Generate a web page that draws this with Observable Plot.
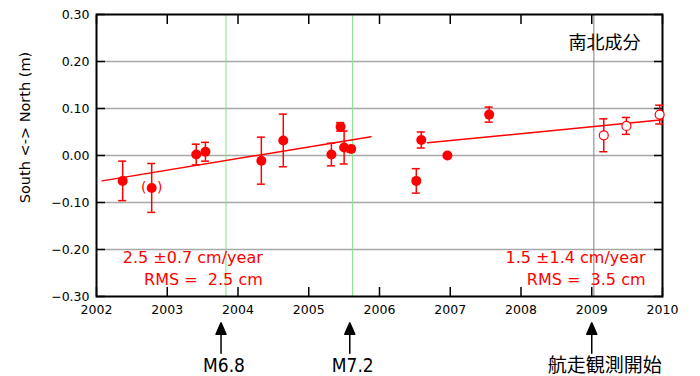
<!DOCTYPE html>
<html><head><meta charset="utf-8">
<script src="https://cdn.jsdelivr.net/npm/d3@7"></script>
<script src="https://cdn.jsdelivr.net/npm/@observablehq/plot@0.6"></script>
<style>html,body{margin:0;padding:0;background:#fff}</style>
</head><body><div id="chart"></div>
<script>
// ---- data ----
const solidT = [2002.37, 2002.78, 2003.41, 2003.54, 2004.33, 2004.64, 2005.32, 2005.45, 2005.50, 2005.60, 2006.52, 2006.59, 2006.96, 2007.55];
const solidV = [-0.054, -0.069, 0.002, 0.008, -0.011, 0.032, 0.002, 0.061, 0.017, 0.014, -0.054, 0.033, 0.000, 0.087];
const solidE = [0.042, 0.052, 0.022, 0.020, 0.050, 0.056, 0.024, 0.009, 0.035, 0.007, 0.026, 0.017, 0, 0.016];
const openT = [2009.17, 2009.49, 2009.96];
const openV = [0.043, 0.063, 0.087];
const openE = [0.035, 0.018, 0.020];
const bracketed = [1]; // index of point shown in parentheses
const trend1T = [2002.08, 2005.88], trend1V = [-0.054, 0.040];
const trend2T = [2006.68, 2010.0], trend2V = [0.027, 0.076];
const quakeLines = [2003.83, 2005.62];
const startLine = [2009.03];
const eventT = [2003.76, 2005.58, 2009.0];
const eventLabels = ["M6.8", "M7.2", "航走観測開始"];
const eventDx = [3, 3, 13];
const eventSize = [19, 19, 19];
const eventFont = ["Liberation Sans Narrow, DejaVu Sans Condensed, sans-serif", "Liberation Sans Narrow, DejaVu Sans Condensed, sans-serif", "Noto Sans CJK JP"];
const xTicks = [2002, 2003, 2004, 2005, 2006, 2007, 2008, 2009, 2010];
const yTicks = [-0.30, -0.20, -0.10, 0.00, 0.10, 0.20, 0.30];
const yGrid = [-0.20, -0.10, 0.00, 0.10, 0.20];
const rate1 = ["2.5 ±0.7 cm/year", "RMS =\u00a0 2.5 cm"];
const rate2 = ["1.5 ±1.4 cm/year", "RMS =\u00a0 3.5 cm"];
const title = "南北成分";
const yLabel = "South <-> North (m)";

// ---- tables ----
const solid = solidT.map((t, i) => ({t, v: solidV[i], e: solidE[i]}));
const open = openT.map((t, i) => ({t, v: openV[i], e: openE[i]}));
const withErr = [...solid, ...open].filter(d => d.e > 0);
const trend = [
  ...trend1T.map((t, i) => ({t, v: trend1V[i], s: 1})),
  ...trend2T.map((t, i) => ({t, v: trend2V[i], s: 2}))
];
const events = eventT.map((t, i) => ({t, label: eventLabels[i], dx: eventDx[i], size: eventSize[i], font: eventFont[i]}));
const red = "#ff0000";
const RX1 = 2004.35, RX2 = 2009.76, RY1 = -0.217, RY2 = -0.264;
const notes = [
  {t: RX1, v: RY1, s: rate1[0]}, {t: RX1, v: RY2, s: rate1[1]},
  {t: RX2, v: RY1, s: rate2[0]}, {t: RX2, v: RY2, s: rate2[1]}
];
const ARROW_LO = -0.421, LABEL_Y = -0.447;

const arrowShape = {
  draw(context, l) {
    context.moveTo(0, 0);
    context.lineTo(0, -l + 10);
    context.moveTo(0, -l);
    context.lineTo(-5, -l + 11.5);
    context.lineTo(5, -l + 11.5);
    context.closePath();
  }
};

const chart = Plot.plot({
  width: 700, height: 376,
  marginLeft: 96, marginRight: 38, marginTop: 14, marginBottom: 80,
  style: {fontFamily: "DejaVu Sans", fontSize: "12.5px", background: "#fff", color: "#000"},
  x: {domain: [2002, 2010], axis: null},
  y: {domain: [-0.3, 0.3], axis: null},
  marks: [
    Plot.ruleY(yGrid, {stroke: "#a8a8a8", strokeWidth: 1.5}),
    Plot.ruleX(quakeLines, {stroke: "#7ee87e", strokeWidth: 1}),
    Plot.ruleX(startLine, {stroke: "#808080", strokeWidth: 1}),
    // inward ticks
    Plot.axisY({anchor: "left", ticks: yTicks, tickSize: 9, insetLeft: 9, tickFormat: () => "", label: null, strokeWidth: 1.5}),
    Plot.axisY({anchor: "right", ticks: yTicks, tickSize: 9, insetRight: 9, tickFormat: () => "", label: null, strokeWidth: 1.5}),
    Plot.axisX({anchor: "bottom", ticks: xTicks, tickSize: 9, insetBottom: 9, tickFormat: () => "", label: null, strokeWidth: 1.5}),
    Plot.axisX({anchor: "top", ticks: xTicks, tickSize: 9, insetTop: 9, tickFormat: () => "", label: null, strokeWidth: 1.5}),
    // labels
    Plot.axisY({anchor: "left", ticks: yTicks, tickSize: 0, tickPadding: 7, tickFormat: d3.format(".2f"), label: null, fontSize: 12.5}),
    Plot.axisX({anchor: "bottom", ticks: xTicks, tickSize: 0, tickPadding: 9, tickFormat: d => String(d), label: null, fontSize: 12.5}),
    Plot.text([yLabel], {frameAnchor: "left", text: d => d, rotate: -90, textAnchor: "middle", dx: -71, dy: -28, fontSize: 14.5, fill: "#000"}),
    Plot.frame({stroke: "#000", strokeWidth: 2}),
    // trend lines
    Plot.line(trend, {x: "t", y: "v", z: "s", stroke: red, strokeWidth: 1.5}),
    // error bars
    Plot.ruleX(withErr, {x: "t", y1: d => d.v - d.e, y2: d => d.v + d.e, stroke: red, strokeWidth: 1.5}),
    Plot.ruleY(withErr, {y: d => d.v - d.e, x1: "t", x2: "t", insetLeft: -4, insetRight: -4, stroke: red, strokeWidth: 1.5}),
    Plot.ruleY(withErr, {y: d => d.v + d.e, x1: "t", x2: "t", insetLeft: -4, insetRight: -4, stroke: red, strokeWidth: 1.5}),
    // points
    Plot.dot(solid, {x: "t", y: "v", r: 5, fill: red, stroke: "none"}),
    Plot.dot(open, {x: "t", y: "v", r: 4.5, fill: "#fff", stroke: red, strokeWidth: 1.2}),
    Plot.text(bracketed.map(i => solid[i]), {x: "t", y: "v", text: () => "(", dx: -8, fill: red, fontSize: 14}),
    Plot.text(bracketed.map(i => solid[i]), {x: "t", y: "v", text: () => ")", dx: 8, fill: red, fontSize: 14}),
    // annotations
    Plot.text(notes, {x: "t", y: "v", text: "s", textAnchor: "end", fill: red, fontSize: 16}),
    Plot.text([title], {x: [2009.69], y: [0.239], text: d => d, textAnchor: "end", fontFamily: "Noto Sans CJK JP", fontSize: 18, fill: "#000"}),
    Plot.vector(events, {x: "t", y: ARROW_LO, length: 30.5, anchor: "start", rotate: 0, shape: arrowShape, stroke: "#000", fill: "#000", strokeWidth: 1.5}),
    ...events.map(e => Plot.text([e], {x: "t", y: LABEL_Y, text: "label", dx: e.dx, fill: "#000", fontSize: e.size, fontFamily: e.font}))
  ]
});
document.getElementById("chart").appendChild(chart);
</script></body></html>
